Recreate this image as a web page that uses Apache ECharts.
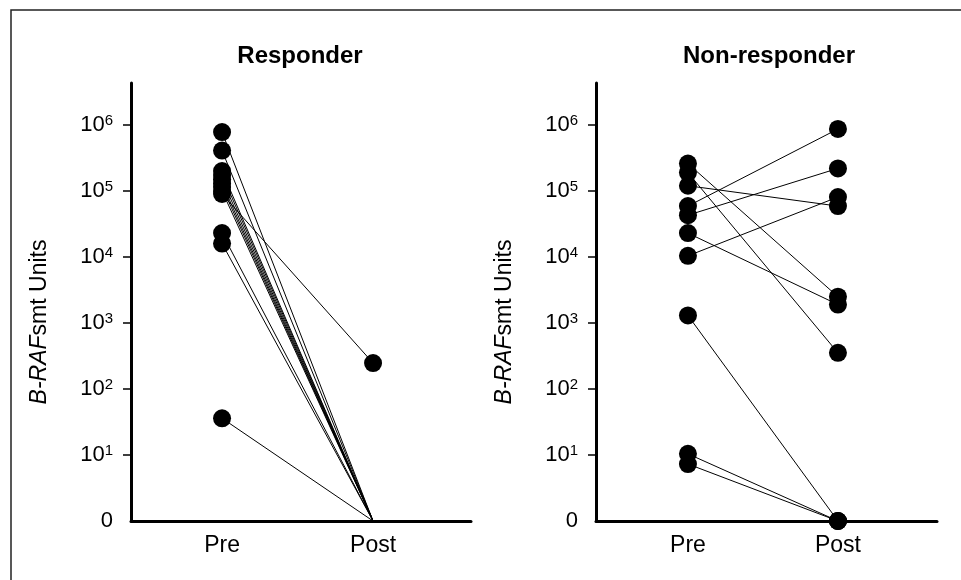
<!DOCTYPE html>
<html>
<head>
<meta charset="utf-8">
<script src="https://cdn.jsdelivr.net/npm/echarts@6/dist/echarts.min.js"></script>
<style>html,body{margin:0;padding:0;background:#fff}#c{width:961px;height:580px}</style>
</head>
<body>
<div id="c"></div>
<script>
// ---- data ----
const panelTitles = ['Responder', 'Non-responder'];
const timeLabels = ['Pre', 'Post'];
const yTickExponents = [0, 1, 2, 3, 4, 5, 6];
const yAxisTitle = '{it|B-RAF}smt Units';

const responderPre  = [780000, 410000, 200000, 175000, 150000, 130000, 115000, 100000, 90000, 23000, 16000, 36];
const responderPost = [0, 0, 0, 0, 0, 0, 0, 0, 247, 0, 0, 0];

const nonResponderPre  = [260000, 190000, 120000, 59000, 43000, 23000, 10400, 1300, 10.4, 7.3];
const nonResponderPost = [2500, 353, 59000, 870000, 220000, 1900, 81000, 0, 0, 0];

// ---- rendering ----
const FONT = '"Liberation Sans", Arial, Helvetica, sans-serif';
const lg = v => (v <= 1 ? 0 : Math.log10(v));
const chart = echarts.init(document.getElementById('c'), null, { renderer: 'canvas' });

const panels = [
  { pre: responderPre, post: responderPost, left: 131, width: 340, xmin: -0.603, pxPerUnit: 151, showZeroDot: false, titleX: 300 },
  { pre: nonResponderPre, post: nonResponderPost, left: 596, width: 341, xmin: -0.613, pxPerUnit: 150, showZeroDot: true, titleX: 769 }
];
const TOP = 83, HEIGHT = 438, YMAX = 6.636;

const grids = [], xAxes = [], yAxes = [], series = [], graphics = [];

graphics.push({
  type: 'rect', z: -10, silent: true,
  shape: { x: 11, y: 10, width: 1200, height: 1200 },
  style: { fill: 'none', stroke: '#222', lineWidth: 1.5 }
});

panels.forEach((p, i) => {
  grids.push({ left: p.left, top: TOP, width: p.width, height: HEIGHT });
  xAxes.push({
    type: 'value', gridIndex: i,
    min: p.xmin, max: p.xmin + p.width / p.pxPerUnit,
    axisLine: { show: true, onZero: false, lineStyle: { color: '#000', width: 3 } },
    axisTick: { show: false },
    splitLine: { show: false },
    axisLabel: {
      customValues: [0, 1],
      formatter: v => timeLabels[Math.round(v)],
      color: '#000', fontSize: 23, fontFamily: FONT, margin: 13
    }
  });
  yAxes.push({
    type: 'value', gridIndex: i, min: 0, max: YMAX,
    axisLine: { show: true, onZero: false, lineStyle: { color: '#000', width: 3 } },
    axisTick: { show: true, customValues: yTickExponents.slice(1), length: 8, lineStyle: { color: '#000', width: 1.5 } },
    splitLine: { show: false },
    axisLabel: {
      customValues: yTickExponents,
      formatter: v => (v === 0 ? '0' : '10{sup|' + v + '}'),
      color: '#000', fontSize: 22, fontFamily: FONT, margin: 18,
      rich: { sup: { fontSize: 15, fontFamily: FONT, color: '#000', verticalAlign: 'top', padding: [0, 0, 9, 0] } }
    },
    name: yAxisTitle,
    nameLocation: 'middle', nameRotate: 90, nameGap: 80,
    nameTextStyle: {
      color: '#000', fontSize: 23, fontFamily: FONT, padding: [0, 40, 0, 0],
      rich: { it: { fontStyle: 'italic', fontSize: 23, fontFamily: FONT, color: '#000' } }
    }
  });
  graphics.push({
    type: 'text', x: p.titleX, y: 56, silent: true,
    style: { text: panelTitles[i], textAlign: 'center', textVerticalAlign: 'middle',
             font: 'bold 24px ' + FONT, fill: '#000' }
  });
  p.pre.forEach((pv, k) => {
    const qv = p.post[k];
    series.push({
      type: 'line', xAxisIndex: i, yAxisIndex: i,
      data: [
        { value: [0, lg(pv)] },
        { value: [1, lg(qv)], symbolSize: (qv === 0 && !p.showZeroDot) ? 0 : 18 }
      ],
      symbol: 'circle', symbolSize: 18,
      itemStyle: { color: '#000' },
      lineStyle: { color: '#000', width: 1 },
      silent: true, animation: false
    });
  });
});

chart.setOption({
  backgroundColor: '#fff',
  animation: false,
  grid: grids, xAxis: xAxes, yAxis: yAxes, series: series,
  graphic: graphics
});
</script>
</body>
</html>
